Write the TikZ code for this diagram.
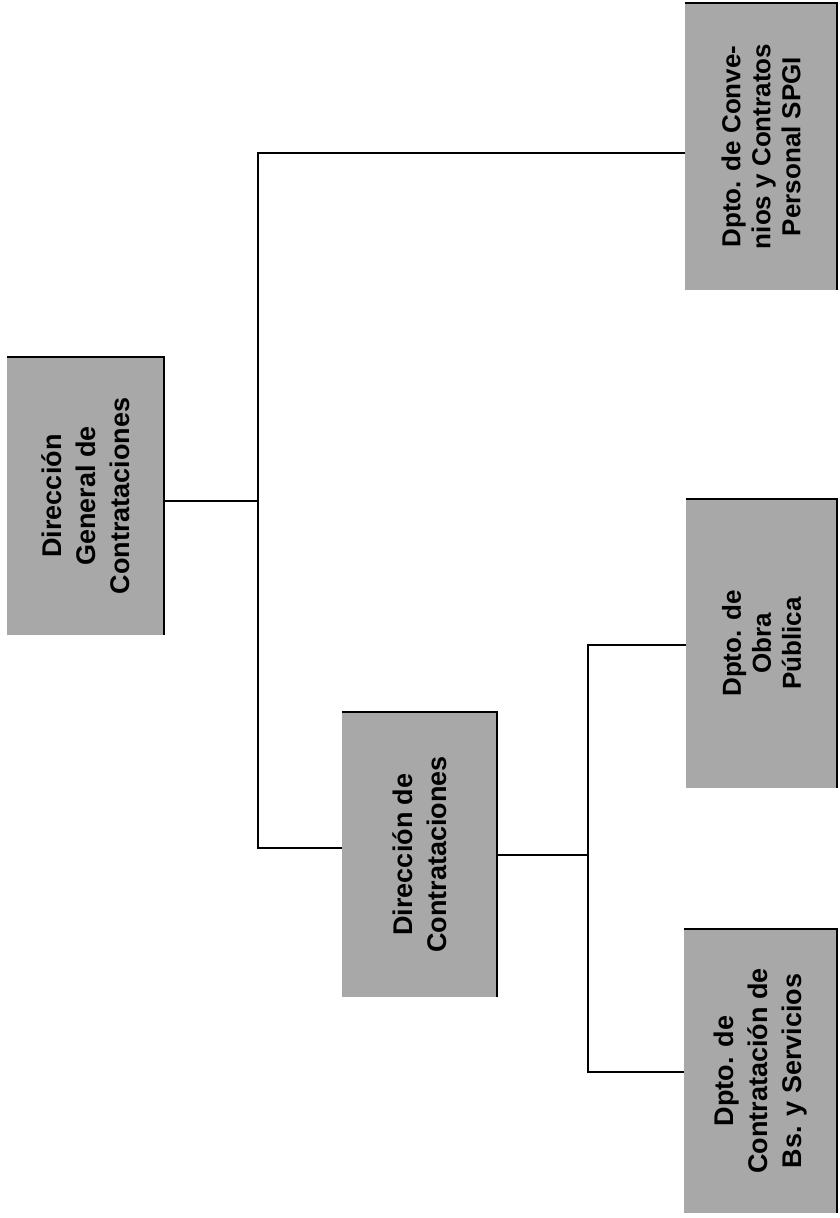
\documentclass[tikz,border=0pt]{standalone}
\usepackage{fontspec}
\setmainfont{Liberation Sans}
\definecolor{boxgray}{gray}{0.66}
\begin{document}
\begin{tikzpicture}[x=1pt,y=-1pt,
  box/.style={rotate=90, fill=boxgray, inner sep=0pt, align=center,
              font=\bfseries\fontsize{27}{34}\selectfont},
  smallbox/.style={box, font=\bfseries\fontsize{26}{30}\selectfont},
  conn/.style={line width=2pt, line join=miter},
  edge/.style={line width=2.2pt, line join=miter}]
\useasboundingbox (0,0) rectangle (839,1218);
% boxes (rotated: minimum width = vertical extent)
\node[box, minimum width=278pt, minimum height=157pt] (b1) at (85.5,496)
  {Dirección\\General de\\Contrataciones};
\node[box, minimum width=285pt, minimum height=155pt] (b2) at (419.5,854.5)
  {Dirección de\\Contrataciones};
\node[box, minimum width=284pt, minimum height=153pt] (b3) at (760.5,1071)
  {Dpto. de\\Contratación de\\Bs. y Servicios};
\node[smallbox, minimum width=289pt, minimum height=151pt] (b4) at (761.5,643.5)
  {Dpto. de\\Obra\\Pública};
\node[smallbox, minimum width=287pt, minimum height=152pt] (b5) at (761,146.5)
  {Dpto. de Conve-\\nios y Contratos\\Personal SPGI};
% dark top and right edges
\foreach \b in {b1,b2,b3,b4,b5}
  \draw[edge] (\b.north east) -- (\b.south east) -- (\b.south west);
% connectors
\coordinate (j1) at (258,501);
\coordinate (t1) at (258,153);
\coordinate (t2) at (258,848);
\draw[conn] (b1.south |- j1) -- (j1);
\draw[conn] (b5.north |- t1) -- (t1) -- (t2) -- (b2.north |- t2);
\coordinate (j2) at (588,855);
\coordinate (t3) at (588,645);
\coordinate (t4) at (588,1072);
\draw[conn] (b2.south |- j2) -- (j2);
\draw[conn] (b4.north |- t3) -- (t3) -- (t4) -- (b3.north |- t4);
\end{tikzpicture}
\end{document}
